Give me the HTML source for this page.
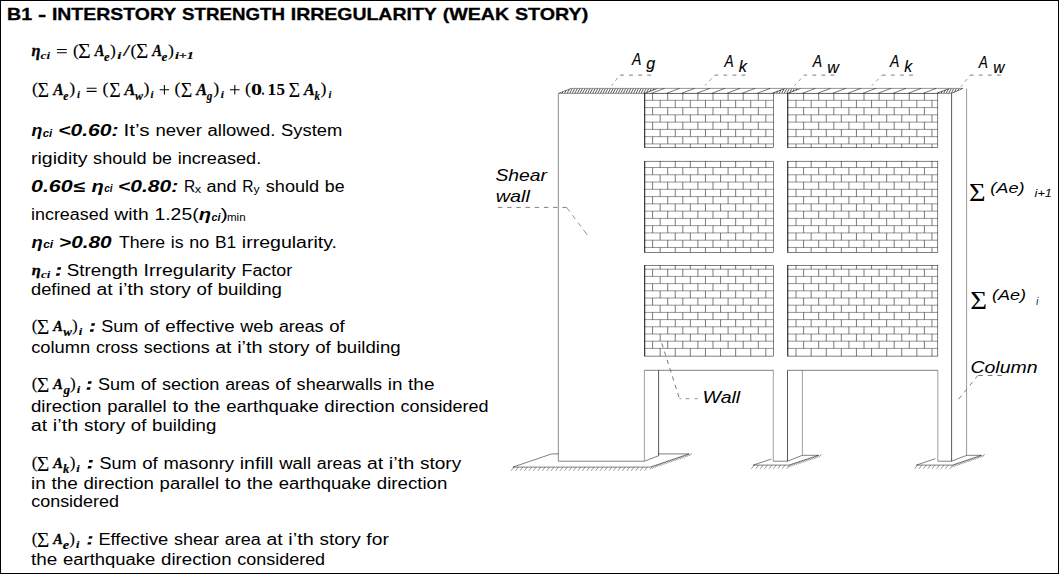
<!DOCTYPE html>
<html lang="en"><head><meta charset="utf-8"><title>B1 - Interstory Strength Irregularity (Weak Story)</title>
<style>html,body{margin:0;padding:0;background:#fff;overflow:hidden}body{width:1059px;height:574px;position:relative;font-family:"Liberation Sans",sans-serif}svg{position:absolute;left:0;top:0;display:block}text{white-space:pre}</style></head><body>
<svg width="1059" height="574" viewBox="0 0 1059 574" font-family="'Liberation Sans',sans-serif" font-size="15.5" fill="#000">
<rect x="0" y="0" width="1059" height="574" fill="#fff"/>
<rect x="0" y="0" width="1059" height="1" fill="#000"/>
<rect x="0" y="0" width="1" height="574" fill="#000"/>
<rect x="1058" y="0" width="1" height="574" fill="#000"/>
<rect x="0" y="573" width="1059" height="1" fill="#000"/>
<g id="diagram">
<clipPath id="tf"><path d="M558.4 93.4L571 88.4L962.9 88.4L951.6 93.4Z"/></clipPath>
<path d="M559.5 93.4L560.02 92.41 M562.05 93.4L563.19 91.21 M564.6 93.4L566.37 90 M567.15 93.4L569.54 88.8 M569.7 93.4L572.3 88.4 M572.25 93.4L574.85 88.4 M574.8 93.4L577.4 88.4 M577.35 93.4L579.95 88.4 M579.9 93.4L582.5 88.4 M582.45 93.4L585.05 88.4 M585 93.4L587.6 88.4 M587.55 93.4L590.15 88.4 M590.1 93.4L592.7 88.4 M592.65 93.4L595.25 88.4 M595.2 93.4L597.8 88.4 M597.75 93.4L600.35 88.4 M600.3 93.4L602.9 88.4 M602.85 93.4L605.45 88.4 M605.4 93.4L608 88.4 M607.95 93.4L610.55 88.4 M610.5 93.4L613.1 88.4 M613.05 93.4L615.65 88.4 M615.6 93.4L618.2 88.4 M618.15 93.4L620.75 88.4 M620.7 93.4L623.3 88.4 M623.25 93.4L625.85 88.4 M625.8 93.4L628.4 88.4 M628.35 93.4L630.95 88.4 M630.9 93.4L633.5 88.4 M633.45 93.4L636.05 88.4 M636 93.4L638.6 88.4 M638.55 93.4L641.15 88.4 M641.1 93.4L643.7 88.4 M643.65 93.4L646.25 88.4 M646.64 92.55L648.8 88.4 M649.82 91.35L651.35 88.4 M652.99 90.15L653.9 88.4" fill="none" stroke="#444" stroke-width="0.88" clip-path="url(#tf)"/>
<path d="M557.4 93.4l13.2 -5M644.4 93.4l13.2 -5" fill="none" stroke="#000" stroke-width="0.6" clip-path="url(#tf)"/>
<path d="M774 93.4L774.52 92.41 M776.55 93.4L777.69 91.21 M779.1 93.4L780.87 90 M781.65 93.4L784.04 88.8 M784.2 93.4L786.8 88.4 M786.75 93.4L789.35 88.4 M789.74 92.55L791.9 88.4 M792.92 91.35L794.45 88.4 M796.09 90.15L797 88.4" fill="none" stroke="#444" stroke-width="0.88" clip-path="url(#tf)"/>
<path d="M771.9 93.4l13.2 -5M787.5 93.4l13.2 -5" fill="none" stroke="#000" stroke-width="0.6" clip-path="url(#tf)"/>
<path d="M938.5 93.4L939.02 92.41 M941.05 93.4L942.19 91.21 M943.6 93.4L945.37 90 M946.15 93.4L948.54 88.8 M948.7 93.4L951.3 88.4 M951.25 93.4L953.85 88.4 M954.22 92.6L956.4 88.4 M957.39 91.4L958.95 88.4 M960.57 90.19L961.5 88.4" fill="none" stroke="#444" stroke-width="0.88" clip-path="url(#tf)"/>
<path d="M936.4 93.4l13.2 -5M952.1 93.4l13.2 -5" fill="none" stroke="#000" stroke-width="0.6" clip-path="url(#tf)"/>
<path d="M651.2 93.4l13.2 -5 M666.3 93.4l13.2 -5 M681.4 93.4l13.2 -5 M696.5 93.4l13.2 -5 M711.6 93.4l13.2 -5 M726.7 93.4l13.2 -5 M741.8 93.4l13.2 -5 M756.9 93.4l13.2 -5" stroke="#000" stroke-width="0.55" fill="none"/>
<path d="M802.2 93.4l13.2 -5 M817.3 93.4l13.2 -5 M832.4 93.4l13.2 -5 M847.5 93.4l13.2 -5 M862.6 93.4l13.2 -5 M877.7 93.4l13.2 -5 M892.8 93.4l13.2 -5 M907.9 93.4l13.2 -5 M923 93.4l13.2 -5" stroke="#000" stroke-width="0.55" fill="none"/>
<path d="M558.4 93.4L571 88.4L962.9 88.4L951.6 93.4Z" stroke="#000" stroke-width="0.42" fill="none"/>
<rect x="644.4" y="93.4" width="128.9" height="54.2" fill="#fff" stroke="none"/>
<path d="M644.4 100.3H773.3 M644.4 107.57H773.3 M644.4 114.84H773.3 M644.4 122.11H773.3 M644.4 129.38H773.3 M644.4 136.65H773.3 M644.4 143.92H773.3" stroke="#000" stroke-width="0.42" fill="none"/>
<path d="M652.6 93.4V100.3 M667.7 93.4V100.3 M682.8 93.4V100.3 M697.9 93.4V100.3 M713 93.4V100.3 M728.1 93.4V100.3 M743.2 93.4V100.3 M758.3 93.4V100.3 M660.15 100.3V107.57 M675.25 100.3V107.57 M690.35 100.3V107.57 M705.45 100.3V107.57 M720.55 100.3V107.57 M735.65 100.3V107.57 M750.75 100.3V107.57 M765.85 100.3V107.57 M652.6 107.57V114.84 M667.7 107.57V114.84 M682.8 107.57V114.84 M697.9 107.57V114.84 M713 107.57V114.84 M728.1 107.57V114.84 M743.2 107.57V114.84 M758.3 107.57V114.84 M660.15 114.84V122.11 M675.25 114.84V122.11 M690.35 114.84V122.11 M705.45 114.84V122.11 M720.55 114.84V122.11 M735.65 114.84V122.11 M750.75 114.84V122.11 M765.85 114.84V122.11 M652.6 122.11V129.38 M667.7 122.11V129.38 M682.8 122.11V129.38 M697.9 122.11V129.38 M713 122.11V129.38 M728.1 122.11V129.38 M743.2 122.11V129.38 M758.3 122.11V129.38 M660.15 129.38V136.65 M675.25 129.38V136.65 M690.35 129.38V136.65 M705.45 129.38V136.65 M720.55 129.38V136.65 M735.65 129.38V136.65 M750.75 129.38V136.65 M765.85 129.38V136.65 M652.6 136.65V143.92 M667.7 136.65V143.92 M682.8 136.65V143.92 M697.9 136.65V143.92 M713 136.65V143.92 M728.1 136.65V143.92 M743.2 136.65V143.92 M758.3 136.65V143.92 M660.15 143.92V147.6 M675.25 143.92V147.6 M690.35 143.92V147.6 M705.45 143.92V147.6 M720.55 143.92V147.6 M735.65 143.92V147.6 M750.75 143.92V147.6 M765.85 143.92V147.6" stroke="#000" stroke-width="0.52" fill="none"/>
<rect x="644.4" y="93.4" width="128.9" height="54.2" fill="none" stroke="#000" stroke-width="0.5"/>
<line x1="644.8" y1="93.4" x2="644.8" y2="147.6" stroke="#000" stroke-width="0.7"/>
<rect x="787.5" y="93.4" width="150.3" height="54.2" fill="#fff" stroke="none"/>
<path d="M787.5 100.3H937.8 M787.5 107.57H937.8 M787.5 114.84H937.8 M787.5 122.11H937.8 M787.5 129.38H937.8 M787.5 136.65H937.8 M787.5 143.92H937.8" stroke="#000" stroke-width="0.42" fill="none"/>
<path d="M803.6 93.4V100.3 M818.7 93.4V100.3 M833.8 93.4V100.3 M848.9 93.4V100.3 M864 93.4V100.3 M879.1 93.4V100.3 M894.2 93.4V100.3 M909.3 93.4V100.3 M924.4 93.4V100.3 M796.05 100.3V107.57 M811.15 100.3V107.57 M826.25 100.3V107.57 M841.35 100.3V107.57 M856.45 100.3V107.57 M871.55 100.3V107.57 M886.65 100.3V107.57 M901.75 100.3V107.57 M916.85 100.3V107.57 M931.95 100.3V107.57 M803.6 107.57V114.84 M818.7 107.57V114.84 M833.8 107.57V114.84 M848.9 107.57V114.84 M864 107.57V114.84 M879.1 107.57V114.84 M894.2 107.57V114.84 M909.3 107.57V114.84 M924.4 107.57V114.84 M796.05 114.84V122.11 M811.15 114.84V122.11 M826.25 114.84V122.11 M841.35 114.84V122.11 M856.45 114.84V122.11 M871.55 114.84V122.11 M886.65 114.84V122.11 M901.75 114.84V122.11 M916.85 114.84V122.11 M931.95 114.84V122.11 M803.6 122.11V129.38 M818.7 122.11V129.38 M833.8 122.11V129.38 M848.9 122.11V129.38 M864 122.11V129.38 M879.1 122.11V129.38 M894.2 122.11V129.38 M909.3 122.11V129.38 M924.4 122.11V129.38 M796.05 129.38V136.65 M811.15 129.38V136.65 M826.25 129.38V136.65 M841.35 129.38V136.65 M856.45 129.38V136.65 M871.55 129.38V136.65 M886.65 129.38V136.65 M901.75 129.38V136.65 M916.85 129.38V136.65 M931.95 129.38V136.65 M803.6 136.65V143.92 M818.7 136.65V143.92 M833.8 136.65V143.92 M848.9 136.65V143.92 M864 136.65V143.92 M879.1 136.65V143.92 M894.2 136.65V143.92 M909.3 136.65V143.92 M924.4 136.65V143.92 M796.05 143.92V147.6 M811.15 143.92V147.6 M826.25 143.92V147.6 M841.35 143.92V147.6 M856.45 143.92V147.6 M871.55 143.92V147.6 M886.65 143.92V147.6 M901.75 143.92V147.6 M916.85 143.92V147.6 M931.95 143.92V147.6" stroke="#000" stroke-width="0.52" fill="none"/>
<rect x="787.5" y="93.4" width="150.3" height="54.2" fill="none" stroke="#000" stroke-width="0.5"/>
<line x1="787.9" y1="93.4" x2="787.9" y2="147.6" stroke="#000" stroke-width="0.7"/>
<rect x="644.4" y="161.2" width="128.9" height="91.2" fill="#fff" stroke="none"/>
<path d="M644.4 167.5H773.3 M644.4 174.77H773.3 M644.4 182.04H773.3 M644.4 189.31H773.3 M644.4 196.58H773.3 M644.4 203.85H773.3 M644.4 211.12H773.3 M644.4 218.39H773.3 M644.4 225.66H773.3 M644.4 232.93H773.3 M644.4 240.2H773.3 M644.4 247.47H773.3" stroke="#000" stroke-width="0.42" fill="none"/>
<path d="M660.15 161.2V167.5 M675.25 161.2V167.5 M690.35 161.2V167.5 M705.45 161.2V167.5 M720.55 161.2V167.5 M735.65 161.2V167.5 M750.75 161.2V167.5 M765.85 161.2V167.5 M652.6 167.5V174.77 M667.7 167.5V174.77 M682.8 167.5V174.77 M697.9 167.5V174.77 M713 167.5V174.77 M728.1 167.5V174.77 M743.2 167.5V174.77 M758.3 167.5V174.77 M660.15 174.77V182.04 M675.25 174.77V182.04 M690.35 174.77V182.04 M705.45 174.77V182.04 M720.55 174.77V182.04 M735.65 174.77V182.04 M750.75 174.77V182.04 M765.85 174.77V182.04 M652.6 182.04V189.31 M667.7 182.04V189.31 M682.8 182.04V189.31 M697.9 182.04V189.31 M713 182.04V189.31 M728.1 182.04V189.31 M743.2 182.04V189.31 M758.3 182.04V189.31 M660.15 189.31V196.58 M675.25 189.31V196.58 M690.35 189.31V196.58 M705.45 189.31V196.58 M720.55 189.31V196.58 M735.65 189.31V196.58 M750.75 189.31V196.58 M765.85 189.31V196.58 M652.6 196.58V203.85 M667.7 196.58V203.85 M682.8 196.58V203.85 M697.9 196.58V203.85 M713 196.58V203.85 M728.1 196.58V203.85 M743.2 196.58V203.85 M758.3 196.58V203.85 M660.15 203.85V211.12 M675.25 203.85V211.12 M690.35 203.85V211.12 M705.45 203.85V211.12 M720.55 203.85V211.12 M735.65 203.85V211.12 M750.75 203.85V211.12 M765.85 203.85V211.12 M652.6 211.12V218.39 M667.7 211.12V218.39 M682.8 211.12V218.39 M697.9 211.12V218.39 M713 211.12V218.39 M728.1 211.12V218.39 M743.2 211.12V218.39 M758.3 211.12V218.39 M660.15 218.39V225.66 M675.25 218.39V225.66 M690.35 218.39V225.66 M705.45 218.39V225.66 M720.55 218.39V225.66 M735.65 218.39V225.66 M750.75 218.39V225.66 M765.85 218.39V225.66 M652.6 225.66V232.93 M667.7 225.66V232.93 M682.8 225.66V232.93 M697.9 225.66V232.93 M713 225.66V232.93 M728.1 225.66V232.93 M743.2 225.66V232.93 M758.3 225.66V232.93 M660.15 232.93V240.2 M675.25 232.93V240.2 M690.35 232.93V240.2 M705.45 232.93V240.2 M720.55 232.93V240.2 M735.65 232.93V240.2 M750.75 232.93V240.2 M765.85 232.93V240.2 M652.6 240.2V247.47 M667.7 240.2V247.47 M682.8 240.2V247.47 M697.9 240.2V247.47 M713 240.2V247.47 M728.1 240.2V247.47 M743.2 240.2V247.47 M758.3 240.2V247.47 M660.15 247.47V252.4 M675.25 247.47V252.4 M690.35 247.47V252.4 M705.45 247.47V252.4 M720.55 247.47V252.4 M735.65 247.47V252.4 M750.75 247.47V252.4 M765.85 247.47V252.4" stroke="#000" stroke-width="0.52" fill="none"/>
<rect x="644.4" y="161.2" width="128.9" height="91.2" fill="none" stroke="#000" stroke-width="0.5"/>
<line x1="644.8" y1="161.2" x2="644.8" y2="252.4" stroke="#000" stroke-width="0.7"/>
<rect x="787.5" y="161.2" width="150.3" height="91.2" fill="#fff" stroke="none"/>
<path d="M787.5 167.5H937.8 M787.5 174.77H937.8 M787.5 182.04H937.8 M787.5 189.31H937.8 M787.5 196.58H937.8 M787.5 203.85H937.8 M787.5 211.12H937.8 M787.5 218.39H937.8 M787.5 225.66H937.8 M787.5 232.93H937.8 M787.5 240.2H937.8 M787.5 247.47H937.8" stroke="#000" stroke-width="0.42" fill="none"/>
<path d="M796.05 161.2V167.5 M811.15 161.2V167.5 M826.25 161.2V167.5 M841.35 161.2V167.5 M856.45 161.2V167.5 M871.55 161.2V167.5 M886.65 161.2V167.5 M901.75 161.2V167.5 M916.85 161.2V167.5 M931.95 161.2V167.5 M803.6 167.5V174.77 M818.7 167.5V174.77 M833.8 167.5V174.77 M848.9 167.5V174.77 M864 167.5V174.77 M879.1 167.5V174.77 M894.2 167.5V174.77 M909.3 167.5V174.77 M924.4 167.5V174.77 M796.05 174.77V182.04 M811.15 174.77V182.04 M826.25 174.77V182.04 M841.35 174.77V182.04 M856.45 174.77V182.04 M871.55 174.77V182.04 M886.65 174.77V182.04 M901.75 174.77V182.04 M916.85 174.77V182.04 M931.95 174.77V182.04 M803.6 182.04V189.31 M818.7 182.04V189.31 M833.8 182.04V189.31 M848.9 182.04V189.31 M864 182.04V189.31 M879.1 182.04V189.31 M894.2 182.04V189.31 M909.3 182.04V189.31 M924.4 182.04V189.31 M796.05 189.31V196.58 M811.15 189.31V196.58 M826.25 189.31V196.58 M841.35 189.31V196.58 M856.45 189.31V196.58 M871.55 189.31V196.58 M886.65 189.31V196.58 M901.75 189.31V196.58 M916.85 189.31V196.58 M931.95 189.31V196.58 M803.6 196.58V203.85 M818.7 196.58V203.85 M833.8 196.58V203.85 M848.9 196.58V203.85 M864 196.58V203.85 M879.1 196.58V203.85 M894.2 196.58V203.85 M909.3 196.58V203.85 M924.4 196.58V203.85 M796.05 203.85V211.12 M811.15 203.85V211.12 M826.25 203.85V211.12 M841.35 203.85V211.12 M856.45 203.85V211.12 M871.55 203.85V211.12 M886.65 203.85V211.12 M901.75 203.85V211.12 M916.85 203.85V211.12 M931.95 203.85V211.12 M803.6 211.12V218.39 M818.7 211.12V218.39 M833.8 211.12V218.39 M848.9 211.12V218.39 M864 211.12V218.39 M879.1 211.12V218.39 M894.2 211.12V218.39 M909.3 211.12V218.39 M924.4 211.12V218.39 M796.05 218.39V225.66 M811.15 218.39V225.66 M826.25 218.39V225.66 M841.35 218.39V225.66 M856.45 218.39V225.66 M871.55 218.39V225.66 M886.65 218.39V225.66 M901.75 218.39V225.66 M916.85 218.39V225.66 M931.95 218.39V225.66 M803.6 225.66V232.93 M818.7 225.66V232.93 M833.8 225.66V232.93 M848.9 225.66V232.93 M864 225.66V232.93 M879.1 225.66V232.93 M894.2 225.66V232.93 M909.3 225.66V232.93 M924.4 225.66V232.93 M796.05 232.93V240.2 M811.15 232.93V240.2 M826.25 232.93V240.2 M841.35 232.93V240.2 M856.45 232.93V240.2 M871.55 232.93V240.2 M886.65 232.93V240.2 M901.75 232.93V240.2 M916.85 232.93V240.2 M931.95 232.93V240.2 M803.6 240.2V247.47 M818.7 240.2V247.47 M833.8 240.2V247.47 M848.9 240.2V247.47 M864 240.2V247.47 M879.1 240.2V247.47 M894.2 240.2V247.47 M909.3 240.2V247.47 M924.4 240.2V247.47 M796.05 247.47V252.4 M811.15 247.47V252.4 M826.25 247.47V252.4 M841.35 247.47V252.4 M856.45 247.47V252.4 M871.55 247.47V252.4 M886.65 247.47V252.4 M901.75 247.47V252.4 M916.85 247.47V252.4 M931.95 247.47V252.4" stroke="#000" stroke-width="0.52" fill="none"/>
<rect x="787.5" y="161.2" width="150.3" height="91.2" fill="none" stroke="#000" stroke-width="0.5"/>
<line x1="787.9" y1="161.2" x2="787.9" y2="252.4" stroke="#000" stroke-width="0.7"/>
<rect x="644.4" y="265.3" width="128.9" height="90.8" fill="#fff" stroke="none"/>
<path d="M644.4 269.2H773.3 M644.4 276.4H773.3 M644.4 283.6H773.3 M644.4 290.8H773.3 M644.4 298H773.3 M644.4 305.2H773.3 M644.4 312.4H773.3 M644.4 319.6H773.3 M644.4 326.8H773.3 M644.4 334H773.3 M644.4 341.2H773.3 M644.4 348.4H773.3" stroke="#000" stroke-width="0.42" fill="none"/>
<path d="M660.15 265.3V269.2 M675.25 265.3V269.2 M690.35 265.3V269.2 M705.45 265.3V269.2 M720.55 265.3V269.2 M735.65 265.3V269.2 M750.75 265.3V269.2 M765.85 265.3V269.2 M652.6 269.2V276.4 M667.7 269.2V276.4 M682.8 269.2V276.4 M697.9 269.2V276.4 M713 269.2V276.4 M728.1 269.2V276.4 M743.2 269.2V276.4 M758.3 269.2V276.4 M660.15 276.4V283.6 M675.25 276.4V283.6 M690.35 276.4V283.6 M705.45 276.4V283.6 M720.55 276.4V283.6 M735.65 276.4V283.6 M750.75 276.4V283.6 M765.85 276.4V283.6 M652.6 283.6V290.8 M667.7 283.6V290.8 M682.8 283.6V290.8 M697.9 283.6V290.8 M713 283.6V290.8 M728.1 283.6V290.8 M743.2 283.6V290.8 M758.3 283.6V290.8 M660.15 290.8V298 M675.25 290.8V298 M690.35 290.8V298 M705.45 290.8V298 M720.55 290.8V298 M735.65 290.8V298 M750.75 290.8V298 M765.85 290.8V298 M652.6 298V305.2 M667.7 298V305.2 M682.8 298V305.2 M697.9 298V305.2 M713 298V305.2 M728.1 298V305.2 M743.2 298V305.2 M758.3 298V305.2 M660.15 305.2V312.4 M675.25 305.2V312.4 M690.35 305.2V312.4 M705.45 305.2V312.4 M720.55 305.2V312.4 M735.65 305.2V312.4 M750.75 305.2V312.4 M765.85 305.2V312.4 M652.6 312.4V319.6 M667.7 312.4V319.6 M682.8 312.4V319.6 M697.9 312.4V319.6 M713 312.4V319.6 M728.1 312.4V319.6 M743.2 312.4V319.6 M758.3 312.4V319.6 M660.15 319.6V326.8 M675.25 319.6V326.8 M690.35 319.6V326.8 M705.45 319.6V326.8 M720.55 319.6V326.8 M735.65 319.6V326.8 M750.75 319.6V326.8 M765.85 319.6V326.8 M652.6 326.8V334 M667.7 326.8V334 M682.8 326.8V334 M697.9 326.8V334 M713 326.8V334 M728.1 326.8V334 M743.2 326.8V334 M758.3 326.8V334 M660.15 334V341.2 M675.25 334V341.2 M690.35 334V341.2 M705.45 334V341.2 M720.55 334V341.2 M735.65 334V341.2 M750.75 334V341.2 M765.85 334V341.2 M652.6 341.2V348.4 M667.7 341.2V348.4 M682.8 341.2V348.4 M697.9 341.2V348.4 M713 341.2V348.4 M728.1 341.2V348.4 M743.2 341.2V348.4 M758.3 341.2V348.4 M660.15 348.4V356.1 M675.25 348.4V356.1 M690.35 348.4V356.1 M705.45 348.4V356.1 M720.55 348.4V356.1 M735.65 348.4V356.1 M750.75 348.4V356.1 M765.85 348.4V356.1" stroke="#000" stroke-width="0.52" fill="none"/>
<rect x="644.4" y="265.3" width="128.9" height="90.8" fill="none" stroke="#000" stroke-width="0.5"/>
<line x1="644.8" y1="265.3" x2="644.8" y2="356.1" stroke="#000" stroke-width="0.7"/>
<rect x="787.5" y="265.3" width="150.3" height="90.8" fill="#fff" stroke="none"/>
<path d="M787.5 269.2H937.8 M787.5 276.4H937.8 M787.5 283.6H937.8 M787.5 290.8H937.8 M787.5 298H937.8 M787.5 305.2H937.8 M787.5 312.4H937.8 M787.5 319.6H937.8 M787.5 326.8H937.8 M787.5 334H937.8 M787.5 341.2H937.8 M787.5 348.4H937.8" stroke="#000" stroke-width="0.42" fill="none"/>
<path d="M796.05 265.3V269.2 M811.15 265.3V269.2 M826.25 265.3V269.2 M841.35 265.3V269.2 M856.45 265.3V269.2 M871.55 265.3V269.2 M886.65 265.3V269.2 M901.75 265.3V269.2 M916.85 265.3V269.2 M931.95 265.3V269.2 M803.6 269.2V276.4 M818.7 269.2V276.4 M833.8 269.2V276.4 M848.9 269.2V276.4 M864 269.2V276.4 M879.1 269.2V276.4 M894.2 269.2V276.4 M909.3 269.2V276.4 M924.4 269.2V276.4 M796.05 276.4V283.6 M811.15 276.4V283.6 M826.25 276.4V283.6 M841.35 276.4V283.6 M856.45 276.4V283.6 M871.55 276.4V283.6 M886.65 276.4V283.6 M901.75 276.4V283.6 M916.85 276.4V283.6 M931.95 276.4V283.6 M803.6 283.6V290.8 M818.7 283.6V290.8 M833.8 283.6V290.8 M848.9 283.6V290.8 M864 283.6V290.8 M879.1 283.6V290.8 M894.2 283.6V290.8 M909.3 283.6V290.8 M924.4 283.6V290.8 M796.05 290.8V298 M811.15 290.8V298 M826.25 290.8V298 M841.35 290.8V298 M856.45 290.8V298 M871.55 290.8V298 M886.65 290.8V298 M901.75 290.8V298 M916.85 290.8V298 M931.95 290.8V298 M803.6 298V305.2 M818.7 298V305.2 M833.8 298V305.2 M848.9 298V305.2 M864 298V305.2 M879.1 298V305.2 M894.2 298V305.2 M909.3 298V305.2 M924.4 298V305.2 M796.05 305.2V312.4 M811.15 305.2V312.4 M826.25 305.2V312.4 M841.35 305.2V312.4 M856.45 305.2V312.4 M871.55 305.2V312.4 M886.65 305.2V312.4 M901.75 305.2V312.4 M916.85 305.2V312.4 M931.95 305.2V312.4 M803.6 312.4V319.6 M818.7 312.4V319.6 M833.8 312.4V319.6 M848.9 312.4V319.6 M864 312.4V319.6 M879.1 312.4V319.6 M894.2 312.4V319.6 M909.3 312.4V319.6 M924.4 312.4V319.6 M796.05 319.6V326.8 M811.15 319.6V326.8 M826.25 319.6V326.8 M841.35 319.6V326.8 M856.45 319.6V326.8 M871.55 319.6V326.8 M886.65 319.6V326.8 M901.75 319.6V326.8 M916.85 319.6V326.8 M931.95 319.6V326.8 M803.6 326.8V334 M818.7 326.8V334 M833.8 326.8V334 M848.9 326.8V334 M864 326.8V334 M879.1 326.8V334 M894.2 326.8V334 M909.3 326.8V334 M924.4 326.8V334 M796.05 334V341.2 M811.15 334V341.2 M826.25 334V341.2 M841.35 334V341.2 M856.45 334V341.2 M871.55 334V341.2 M886.65 334V341.2 M901.75 334V341.2 M916.85 334V341.2 M931.95 334V341.2 M803.6 341.2V348.4 M818.7 341.2V348.4 M833.8 341.2V348.4 M848.9 341.2V348.4 M864 341.2V348.4 M879.1 341.2V348.4 M894.2 341.2V348.4 M909.3 341.2V348.4 M924.4 341.2V348.4 M796.05 348.4V356.1 M811.15 348.4V356.1 M826.25 348.4V356.1 M841.35 348.4V356.1 M856.45 348.4V356.1 M871.55 348.4V356.1 M886.65 348.4V356.1 M901.75 348.4V356.1 M916.85 348.4V356.1 M931.95 348.4V356.1" stroke="#000" stroke-width="0.52" fill="none"/>
<rect x="787.5" y="265.3" width="150.3" height="90.8" fill="none" stroke="#000" stroke-width="0.5"/>
<line x1="787.9" y1="265.3" x2="787.9" y2="356.1" stroke="#000" stroke-width="0.7"/>
<line x1="558.4" y1="93.4" x2="558.4" y2="461.2" stroke="#a2a2a2" stroke-width="1.2" />
<line x1="558.4" y1="461.2" x2="644.4" y2="461.2" stroke="#000" stroke-width="0.5" />
<line x1="644.4" y1="370.3" x2="644.4" y2="461.2" stroke="#000" stroke-width="0.38" />
<line x1="658.6" y1="370.3" x2="658.6" y2="455.8" stroke="#000" stroke-width="0.66" />
<line x1="644.4" y1="461.2" x2="658.6" y2="455.8" stroke="#000" stroke-width="0.5" />
<line x1="644.4" y1="370.3" x2="773.3" y2="370.3" stroke="#000" stroke-width="0.5" />
<line x1="773.3" y1="370.3" x2="773.3" y2="461.2" stroke="#000" stroke-width="0.38" />
<line x1="773.3" y1="461.2" x2="787.5" y2="461.2" stroke="#000" stroke-width="0.5" />
<line x1="787.5" y1="370.3" x2="787.5" y2="461.2" stroke="#000" stroke-width="0.66" />
<line x1="802.4" y1="370.3" x2="802.4" y2="455.3" stroke="#000" stroke-width="0.38" />
<line x1="787.5" y1="461.2" x2="802.4" y2="455.3" stroke="#000" stroke-width="0.5" />
<line x1="787.5" y1="370.3" x2="937.8" y2="370.3" stroke="#000" stroke-width="0.5" />
<line x1="937.8" y1="370.3" x2="937.8" y2="461.2" stroke="#000" stroke-width="0.38" />
<line x1="937.8" y1="461.2" x2="951.6" y2="461.2" stroke="#000" stroke-width="0.5" />
<line x1="951.6" y1="93.4" x2="951.6" y2="461.2" stroke="#000" stroke-width="0.66" />
<line x1="966.6" y1="88.7" x2="966.6" y2="455.4" stroke="#000" stroke-width="0.4" />
<line x1="951.6" y1="461.2" x2="966.6" y2="455.4" stroke="#000" stroke-width="0.5" />
<line x1="512.9" y1="467.1" x2="650.2" y2="467.1" stroke="#000" stroke-width="0.5" />
<line x1="650.2" y1="467.1" x2="689" y2="453.9" stroke="#000" stroke-width="0.5" />
<line x1="512.9" y1="467.1" x2="551.7" y2="453.9" stroke="#000" stroke-width="0.5" />
<line x1="551.7" y1="453.9" x2="558.4" y2="453.9" stroke="#000" stroke-width="0.5" />
<path d="M513.9 467.1l-2.8 3.7 M518.35 467.1l-2.8 3.7 M522.8 467.1l-2.8 3.7 M527.25 467.1l-2.8 3.7 M531.7 467.1l-2.8 3.7 M536.15 467.1l-2.8 3.7 M540.6 467.1l-2.8 3.7 M545.05 467.1l-2.8 3.7 M549.5 467.1l-2.8 3.7 M553.95 467.1l-2.8 3.7 M558.4 467.1l-2.8 3.7 M562.85 467.1l-2.8 3.7 M567.3 467.1l-2.8 3.7 M571.75 467.1l-2.8 3.7 M576.2 467.1l-2.8 3.7 M580.65 467.1l-2.8 3.7 M585.1 467.1l-2.8 3.7 M589.55 467.1l-2.8 3.7 M594 467.1l-2.8 3.7 M598.45 467.1l-2.8 3.7 M602.9 467.1l-2.8 3.7 M607.35 467.1l-2.8 3.7 M611.8 467.1l-2.8 3.7 M616.25 467.1l-2.8 3.7 M620.7 467.1l-2.8 3.7 M625.15 467.1l-2.8 3.7 M629.6 467.1l-2.8 3.7 M634.05 467.1l-2.8 3.7 M638.5 467.1l-2.8 3.7 M642.95 467.1l-2.8 3.7 M647.4 467.1l-2.8 3.7 M652.5 466.32l-2.5 3.1 M654.8 465.54l-2.5 3.1 M657.1 464.75l-2.5 3.1 M659.4 463.97l-2.5 3.1 M661.7 463.19l-2.5 3.1 M664 462.41l-2.5 3.1 M666.3 461.62l-2.5 3.1 M668.6 460.84l-2.5 3.1 M670.9 460.06l-2.5 3.1 M673.2 459.28l-2.5 3.1 M675.5 458.49l-2.5 3.1 M677.8 457.71l-2.5 3.1 M680.1 456.93l-2.5 3.1 M682.4 456.15l-2.5 3.1 M684.7 455.36l-2.5 3.1 M687 454.58l-2.5 3.1 M689.3 453.8l-2.5 3.1 M691.6 453.02l-2.5 3.1" stroke="#000" stroke-width="0.4" fill="none"/>
<line x1="658.6" y1="453.9" x2="689" y2="453.9" stroke="#000" stroke-width="0.5" />
<line x1="753.2" y1="465.1" x2="789" y2="465.1" stroke="#000" stroke-width="0.5" />
<line x1="789" y1="465.1" x2="818.4" y2="455.3" stroke="#000" stroke-width="0.5" />
<line x1="753.2" y1="465.1" x2="771.4" y2="459.03" stroke="#000" stroke-width="0.5" />
<path d="M754.2 465.1l-2.8 3.7 M758.6 465.1l-2.8 3.7 M763 465.1l-2.8 3.7 M767.4 465.1l-2.8 3.7 M771.8 465.1l-2.8 3.7 M776.2 465.1l-2.8 3.7 M780.6 465.1l-2.8 3.7 M785 465.1l-2.8 3.7 M789.4 465.1l-2.8 3.7 M791.3 464.33l-2.5 3.1 M793.6 463.57l-2.5 3.1 M795.9 462.8l-2.5 3.1 M798.2 462.03l-2.5 3.1 M800.5 461.27l-2.5 3.1 M802.8 460.5l-2.5 3.1 M805.1 459.73l-2.5 3.1 M807.4 458.97l-2.5 3.1 M809.7 458.2l-2.5 3.1 M812 457.43l-2.5 3.1 M814.3 456.67l-2.5 3.1 M816.6 455.9l-2.5 3.1 M818.9 455.13l-2.5 3.1 M821.2 454.37l-2.5 3.1" stroke="#000" stroke-width="0.4" fill="none"/>
<line x1="802.4" y1="455.3" x2="818.4" y2="455.3" stroke="#000" stroke-width="0.5" />
<line x1="916.4" y1="465.1" x2="952.4" y2="465.1" stroke="#000" stroke-width="0.5" />
<line x1="952.4" y1="465.1" x2="981.4" y2="455.3" stroke="#000" stroke-width="0.5" />
<line x1="916.4" y1="465.1" x2="935.4" y2="458.68" stroke="#000" stroke-width="0.5" />
<path d="M917.4 465.1l-2.8 3.7 M921.8 465.1l-2.8 3.7 M926.2 465.1l-2.8 3.7 M930.6 465.1l-2.8 3.7 M935 465.1l-2.8 3.7 M939.4 465.1l-2.8 3.7 M943.8 465.1l-2.8 3.7 M948.2 465.1l-2.8 3.7 M952.6 465.1l-2.8 3.7 M954.7 464.32l-2.5 3.1 M957 463.55l-2.5 3.1 M959.3 462.77l-2.5 3.1 M961.6 461.99l-2.5 3.1 M963.9 461.21l-2.5 3.1 M966.2 460.44l-2.5 3.1 M968.5 459.66l-2.5 3.1 M970.8 458.88l-2.5 3.1 M973.1 458.1l-2.5 3.1 M975.4 457.33l-2.5 3.1 M977.7 456.55l-2.5 3.1 M980 455.77l-2.5 3.1 M982.3 455l-2.5 3.1 M984.6 454.22l-2.5 3.1" stroke="#000" stroke-width="0.4" fill="none"/>
<line x1="966.6" y1="455.3" x2="981.4" y2="455.3" stroke="#000" stroke-width="0.5" />
<path d="M651.1 75.1H619.8" fill="none" stroke="#959595" stroke-width="1.3" stroke-dasharray="3.8 5.3"/>
<path d="M611.6 85.6L619.8 75.1" fill="none" stroke="#9a9a9a" stroke-width="1.0" stroke-dasharray="2.4 3.8 3.6 3.6 9"/>
<path d="M745.4 75.1H714.8" fill="none" stroke="#959595" stroke-width="1.3" stroke-dasharray="3.8 5.3"/>
<path d="M705 85.6L714.8 75.1" fill="none" stroke="#9a9a9a" stroke-width="1.0" stroke-dasharray="2.4 3.8 3.6 3.6 9"/>
<path d="M834.4 75.2H804.2" fill="none" stroke="#959595" stroke-width="1.3" stroke-dasharray="3.8 5.3"/>
<path d="M794.4 85.7L804.2 75.2" fill="none" stroke="#9a9a9a" stroke-width="1.0" stroke-dasharray="2.4 3.8 3.6 3.6 9"/>
<path d="M912.9 75.2H882.2" fill="none" stroke="#959595" stroke-width="1.3" stroke-dasharray="3.8 5.3"/>
<path d="M871.8 85.7L882.2 75.2" fill="none" stroke="#9a9a9a" stroke-width="1.0" stroke-dasharray="2.4 3.8 3.6 3.6 9"/>
<path d="M1000.8 75.2H970.2" fill="none" stroke="#959595" stroke-width="1.3" stroke-dasharray="3.8 5.3"/>
<path d="M961 86.6L970.2 75.2" fill="none" stroke="#9a9a9a" stroke-width="1.0" stroke-dasharray="2.4 3.8 3.6 3.6 9"/>
<path d="M497.9 207.4 L566.6 207.4" fill="none" stroke="#808080" stroke-width="1" stroke-dasharray="4.5 4.7"/>
<path d="M566.6 207.4 L587.2 234.8" fill="none" stroke="#8a8a8a" stroke-width="0.95" stroke-dasharray="5.2 4.6 4.7 4.6 4.7 4.0 7"/>
<path d="M1001.9 375.45 L977.9 375.45" fill="none" stroke="#666" stroke-width="0.95" stroke-dasharray="4.6 4.9"/>
<path d="M977.9 375.45 L958.6 399.2" fill="none" stroke="#7a7a7a" stroke-width="0.95" stroke-dasharray="4.0 4.3 4.5 4.6 4.3 4.3 5"/>
<path d="M661.8 343.3 L679.5 398.7" fill="none" stroke="#6a6a6a" stroke-width="0.9" stroke-dasharray="4.4 4.3"/>
<path d="M679.5 398.7 L697.6 398.7" fill="none" stroke="#8a8a8a" stroke-width="0.95" stroke-dasharray="1.7 4.4 3.9 5.2 2.9"/>
<text x="631.99" y="64.8" font-size="15.8" font-style="italic" stroke="#000" stroke-width="0.15" textLength="9.36" lengthAdjust="spacingAndGlyphs">A</text>
<text x="646.37" y="69.4" font-size="17" font-style="italic" stroke="#000" stroke-width="0.15" textLength="8.97" lengthAdjust="spacingAndGlyphs">g</text>
<text x="724.58" y="67" font-size="15.8" font-style="italic" stroke="#000" stroke-width="0.15" textLength="9.16" lengthAdjust="spacingAndGlyphs">A</text>
<text x="738.83" y="72.2" font-size="17" font-style="italic" stroke="#000" stroke-width="0.15" textLength="8.09" lengthAdjust="spacingAndGlyphs">k</text>
<text x="812.79" y="67" font-size="15.8" font-style="italic" stroke="#000" stroke-width="0.15" textLength="9.36" lengthAdjust="spacingAndGlyphs">A</text>
<text x="827.2" y="72.5" font-size="17" font-style="italic" stroke="#000" stroke-width="0.15" textLength="11.64" lengthAdjust="spacingAndGlyphs">w</text>
<text x="889.89" y="67" font-size="15.8" font-style="italic" stroke="#000" stroke-width="0.15" textLength="9.36" lengthAdjust="spacingAndGlyphs">A</text>
<text x="904.34" y="72.2" font-size="17" font-style="italic" stroke="#000" stroke-width="0.15" textLength="7.9" lengthAdjust="spacingAndGlyphs">k</text>
<text x="978.78" y="68" font-size="15.8" font-style="italic" stroke="#000" stroke-width="0.15" textLength="9.16" lengthAdjust="spacingAndGlyphs">A</text>
<text x="993.23" y="73" font-size="17" font-style="italic" stroke="#000" stroke-width="0.15" textLength="11.14" lengthAdjust="spacingAndGlyphs">w</text>
<text x="495.45" y="181.4" font-size="16.6" font-style="italic" textLength="51.5" lengthAdjust="spacingAndGlyphs">Shear</text>
<text x="495.81" y="201.5" font-size="16.6" font-style="italic" textLength="34.14" lengthAdjust="spacingAndGlyphs">wall</text>
<text x="702.6" y="403" font-size="16.8" font-style="italic" textLength="37.6" lengthAdjust="spacingAndGlyphs">Wall</text>
<text x="970.4" y="372.8" font-size="17" font-style="italic" textLength="67.2" lengthAdjust="spacingAndGlyphs">Column</text>
<text x="968.99" y="200.9" font-size="26" font-family="'Liberation Serif',serif" textLength="16.54" lengthAdjust="spacingAndGlyphs">Σ</text>
<text x="990.2" y="192.9" font-size="14.2" font-style="italic" textLength="34.4" lengthAdjust="spacingAndGlyphs">(Ae)</text>
<text x="1034.6" y="197.1" font-size="10.2" font-style="italic" textLength="17.28" lengthAdjust="spacingAndGlyphs">i+1</text>
<text x="970.27" y="308.5" font-size="26" font-family="'Liberation Serif',serif" textLength="16.78" lengthAdjust="spacingAndGlyphs">Σ</text>
<text x="991.9" y="300.2" font-size="14.2" font-style="italic" textLength="34.1" lengthAdjust="spacingAndGlyphs">(Ae)</text>
<text x="1036.35" y="304.6" font-size="10.2" font-style="italic" textLength="2.04" lengthAdjust="spacingAndGlyphs">i</text>
</g>
<g id="text">
<text x="7" y="20.4" font-size="17.1" font-weight="bold" stroke="#000" stroke-width="0.3" textLength="25.09" lengthAdjust="spacingAndGlyphs">B1</text>
<text x="37.92" y="20.4" font-size="17.1" font-weight="bold" stroke="#000" stroke-width="0.3" textLength="8.18" lengthAdjust="spacingAndGlyphs">-</text>
<text x="51.92" y="20.4" font-size="17.1" font-weight="bold" stroke="#000" stroke-width="0.3" textLength="124.37" lengthAdjust="spacingAndGlyphs">INTERSTORY</text>
<text x="182.12" y="20.4" font-size="17.1" font-weight="bold" stroke="#000" stroke-width="0.3" textLength="102.79" lengthAdjust="spacingAndGlyphs">STRENGTH</text>
<text x="290.73" y="20.4" font-size="17.1" font-weight="bold" stroke="#000" stroke-width="0.3" textLength="146.09" lengthAdjust="spacingAndGlyphs">IRREGULARITY</text>
<text x="442.65" y="20.4" font-size="17.1" font-weight="bold" stroke="#000" stroke-width="0.3" textLength="66.45" lengthAdjust="spacingAndGlyphs">(WEAK</text>
<text x="514.93" y="20.4" font-size="17.1" font-weight="bold" stroke="#000" stroke-width="0.3" textLength="73.32" lengthAdjust="spacingAndGlyphs">STORY)</text>
<text x="31.47" y="55.8" font-size="16.6" font-family="'Liberation Serif',serif" font-weight="bold" font-style="italic" stroke="#000" stroke-width="0.3" textLength="8.94" lengthAdjust="spacingAndGlyphs">η</text>
<text x="40.6" y="58.9" font-size="11.4" font-family="'Liberation Serif',serif" font-weight="bold" font-style="italic" textLength="9.65" lengthAdjust="spacingAndGlyphs">ci</text>
<path d="M56.9 49.5H66.8M56.9 52.65H66.8" stroke="#000" stroke-width="1.05" fill="none"/>
<text x="73.03" y="55.6" font-size="16.5" font-family="'Liberation Serif',serif" stroke="#000" stroke-width="0.12" textLength="5.83" lengthAdjust="spacingAndGlyphs">(</text>
<text x="77.94" y="58.2" font-size="21.2" font-family="'Liberation Serif',serif" textLength="12.76" lengthAdjust="spacingAndGlyphs">Σ</text>
<text x="94.86" y="55.8" font-size="16.6" font-family="'Liberation Serif',serif" font-weight="bold" font-style="italic" stroke="#000" stroke-width="0.3" textLength="9.74" lengthAdjust="spacingAndGlyphs">A</text>
<text x="104.01" y="60.8" font-size="12.4" font-family="'Liberation Serif',serif" font-weight="bold" font-style="italic" stroke="#000" stroke-width="0.2" textLength="5.46" lengthAdjust="spacingAndGlyphs">e</text>
<text x="110.14" y="55.6" font-size="16.5" font-family="'Liberation Serif',serif" stroke="#000" stroke-width="0.12" textLength="5.83" lengthAdjust="spacingAndGlyphs">)</text>
<text x="117.22" y="59.3" font-size="11.2" font-family="'Liberation Serif',serif" font-weight="bold" font-style="italic" stroke="#000" stroke-width="0.15" textLength="4.14" lengthAdjust="spacingAndGlyphs">i</text>
<text x="122.7" y="55.6" font-size="16.5" font-family="'Liberation Serif',serif" stroke="#000" stroke-width="0.12" textLength="7.6" lengthAdjust="spacingAndGlyphs">/</text>
<text x="130.51" y="55.6" font-size="16.5" font-family="'Liberation Serif',serif" stroke="#000" stroke-width="0.12" textLength="5.96" lengthAdjust="spacingAndGlyphs">(</text>
<text x="136.08" y="58.2" font-size="21.2" font-family="'Liberation Serif',serif" textLength="12.29" lengthAdjust="spacingAndGlyphs">Σ</text>
<text x="152.26" y="55.8" font-size="16.6" font-family="'Liberation Serif',serif" font-weight="bold" font-style="italic" stroke="#000" stroke-width="0.3" textLength="9.84" lengthAdjust="spacingAndGlyphs">A</text>
<text x="161.49" y="60.8" font-size="12.4" font-family="'Liberation Serif',serif" font-weight="bold" font-style="italic" stroke="#000" stroke-width="0.2" textLength="5.79" lengthAdjust="spacingAndGlyphs">e</text>
<text x="168.02" y="55.6" font-size="16.5" font-family="'Liberation Serif',serif" stroke="#000" stroke-width="0.12" textLength="5.96" lengthAdjust="spacingAndGlyphs">)</text>
<text x="174.94" y="59.3" font-size="11.2" font-family="'Liberation Serif',serif" font-weight="bold" font-style="italic" stroke="#000" stroke-width="0.15" textLength="18.98" lengthAdjust="spacingAndGlyphs">i+1</text>
<text x="32.01" y="94.3" font-size="16.8" font-family="'Liberation Serif',serif" stroke="#000" stroke-width="0.12" textLength="5.96" lengthAdjust="spacingAndGlyphs">(</text>
<text x="37.62" y="96.9" font-size="21.6" font-family="'Liberation Serif',serif" textLength="11.58" lengthAdjust="spacingAndGlyphs">Σ</text>
<text x="53.21" y="94.5" font-size="17.3" font-family="'Liberation Serif',serif" font-weight="bold" font-style="italic" stroke="#000" stroke-width="0.3" textLength="10.43" lengthAdjust="spacingAndGlyphs">A</text>
<text x="63.13" y="99.5" font-size="12.4" font-family="'Liberation Serif',serif" font-weight="bold" font-style="italic" stroke="#000" stroke-width="0.2" textLength="5.12" lengthAdjust="spacingAndGlyphs">e</text>
<text x="69.22" y="94.3" font-size="16.8" font-family="'Liberation Serif',serif" stroke="#000" stroke-width="0.12" textLength="5.96" lengthAdjust="spacingAndGlyphs">)</text>
<text x="77.02" y="98" font-size="11.2" font-family="'Liberation Serif',serif" font-weight="bold" font-style="italic" stroke="#000" stroke-width="0.15" textLength="3.02" lengthAdjust="spacingAndGlyphs">i</text>
<path d="M86.7 88.2H96.6M86.7 91.35H96.6" stroke="#000" stroke-width="1.05" fill="none"/>
<text x="102.61" y="94.3" font-size="16.8" font-family="'Liberation Serif',serif" stroke="#000" stroke-width="0.12" textLength="5.96" lengthAdjust="spacingAndGlyphs">(</text>
<text x="109.23" y="96.9" font-size="21.6" font-family="'Liberation Serif',serif" textLength="11.46" lengthAdjust="spacingAndGlyphs">Σ</text>
<text x="124.44" y="94.5" font-size="17.3" font-family="'Liberation Serif',serif" font-weight="bold" font-style="italic" stroke="#000" stroke-width="0.3" textLength="10.83" lengthAdjust="spacingAndGlyphs">A</text>
<text x="134.99" y="99.5" font-size="12.4" font-family="'Liberation Serif',serif" font-weight="bold" font-style="italic" stroke="#000" stroke-width="0.2" textLength="7.97" lengthAdjust="spacingAndGlyphs">w</text>
<text x="143.62" y="94.3" font-size="16.8" font-family="'Liberation Serif',serif" stroke="#000" stroke-width="0.12" textLength="5.96" lengthAdjust="spacingAndGlyphs">)</text>
<text x="150.52" y="98" font-size="11.2" font-family="'Liberation Serif',serif" font-weight="bold" font-style="italic" stroke="#000" stroke-width="0.15" textLength="3.02" lengthAdjust="spacingAndGlyphs">i</text>
<path d="M159.7 89.75H169.1M164.4 85.05V94.45" stroke="#000" stroke-width="1.05" fill="none"/>
<text x="174.51" y="94.3" font-size="16.8" font-family="'Liberation Serif',serif" stroke="#000" stroke-width="0.12" textLength="5.96" lengthAdjust="spacingAndGlyphs">(</text>
<text x="180.82" y="96.9" font-size="21.6" font-family="'Liberation Serif',serif" textLength="11.58" lengthAdjust="spacingAndGlyphs">Σ</text>
<text x="196.24" y="94.5" font-size="17.3" font-family="'Liberation Serif',serif" font-weight="bold" font-style="italic" stroke="#000" stroke-width="0.3" textLength="10.83" lengthAdjust="spacingAndGlyphs">A</text>
<text x="206.81" y="99.5" font-size="12.4" font-family="'Liberation Serif',serif" font-weight="bold" font-style="italic" stroke="#000" stroke-width="0.2" textLength="5.59" lengthAdjust="spacingAndGlyphs">g</text>
<text x="213.22" y="94.3" font-size="16.8" font-family="'Liberation Serif',serif" stroke="#000" stroke-width="0.12" textLength="5.96" lengthAdjust="spacingAndGlyphs">)</text>
<text x="220.71" y="98" font-size="11.2" font-family="'Liberation Serif',serif" font-weight="bold" font-style="italic" stroke="#000" stroke-width="0.15" textLength="3.14" lengthAdjust="spacingAndGlyphs">i</text>
<path d="M230 89.75H239.6M234.8 84.95V94.55" stroke="#000" stroke-width="1.05" fill="none"/>
<text x="245.01" y="94.3" font-size="16.8" font-family="'Liberation Serif',serif" stroke="#000" stroke-width="0.12" textLength="5.96" lengthAdjust="spacingAndGlyphs">(</text>
<text x="250.96" y="94.5" font-size="17.3" font-family="'Liberation Serif',serif" font-weight="bold" textLength="11.09" lengthAdjust="spacingAndGlyphs">0</text>
<text x="261.48" y="94.5" font-size="17.3" font-family="'Liberation Serif',serif" font-weight="bold" textLength="2.93" lengthAdjust="spacingAndGlyphs">.</text>
<text x="267.41" y="94.5" font-size="17.3" font-family="'Liberation Serif',serif" font-weight="bold" textLength="8.69" lengthAdjust="spacingAndGlyphs">1</text>
<text x="276.62" y="94.5" font-size="17.3" font-family="'Liberation Serif',serif" font-weight="bold" textLength="8.5" lengthAdjust="spacingAndGlyphs">5</text>
<text x="288.42" y="96.9" font-size="21.6" font-family="'Liberation Serif',serif" textLength="11.7" lengthAdjust="spacingAndGlyphs">Σ</text>
<text x="304.04" y="94.5" font-size="17.3" font-family="'Liberation Serif',serif" font-weight="bold" font-style="italic" stroke="#000" stroke-width="0.3" textLength="10.83" lengthAdjust="spacingAndGlyphs">A</text>
<text x="314.55" y="99.5" font-size="12.4" font-family="'Liberation Serif',serif" font-weight="bold" font-style="italic" stroke="#000" stroke-width="0.2" textLength="5.43" lengthAdjust="spacingAndGlyphs">k</text>
<text x="320.52" y="94.3" font-size="16.8" font-family="'Liberation Serif',serif" stroke="#000" stroke-width="0.12" textLength="5.96" lengthAdjust="spacingAndGlyphs">)</text>
<text x="328.43" y="98" font-size="11.2" font-family="'Liberation Serif',serif" font-weight="bold" font-style="italic" stroke="#000" stroke-width="0.15" textLength="2.91" lengthAdjust="spacingAndGlyphs">i</text>
<text x="31.6" y="136.3" font-size="15.6" font-weight="bold" font-style="italic" textLength="10.9" lengthAdjust="spacingAndGlyphs">η</text>
<text x="42.8" y="136.5" font-size="11" font-weight="bold" font-style="italic" textLength="9.5" lengthAdjust="spacingAndGlyphs">ci</text>
<text x="58.2" y="136.3" font-size="15.6" font-weight="bold" font-style="italic" textLength="60.3" lengthAdjust="spacingAndGlyphs">&lt;0.60:</text>
<text x="123.6" y="136.3" font-size="15.6" textLength="26.16" lengthAdjust="spacingAndGlyphs">It’s</text>
<text x="155.5" y="136.3" font-size="15.6" textLength="46.36" lengthAdjust="spacingAndGlyphs">never</text>
<text x="207.59" y="136.3" font-size="15.6" textLength="67.76" lengthAdjust="spacingAndGlyphs">allowed.</text>
<text x="281.09" y="136.3" font-size="15.6" textLength="61.29" lengthAdjust="spacingAndGlyphs">System</text>
<text x="31" y="164.2" font-size="15.6" textLength="56.43" lengthAdjust="spacingAndGlyphs">rigidity</text>
<text x="93.13" y="164.2" font-size="15.6" textLength="53.35" lengthAdjust="spacingAndGlyphs">should</text>
<text x="152.19" y="164.2" font-size="15.6" textLength="19.76" lengthAdjust="spacingAndGlyphs">be</text>
<text x="177.65" y="164.2" font-size="15.6" textLength="83.58" lengthAdjust="spacingAndGlyphs">increased.</text>
<text x="31" y="192.2" font-size="15.6" font-weight="bold" font-style="italic" textLength="53.4" lengthAdjust="spacingAndGlyphs">0.60≤</text>
<text x="91.6" y="192.2" font-size="15.6" font-weight="bold" font-style="italic" textLength="12.3" lengthAdjust="spacingAndGlyphs">η</text>
<text x="104.2" y="192.4" font-size="11" font-weight="bold" font-style="italic" textLength="8.3" lengthAdjust="spacingAndGlyphs">ci</text>
<text x="118" y="192.2" font-size="15.6" font-weight="bold" font-style="italic" textLength="60.2" lengthAdjust="spacingAndGlyphs">&lt;0.80:</text>
<text x="184" y="192.2" font-size="15.6" textLength="11.27" lengthAdjust="spacingAndGlyphs">R</text>
<text x="194.8" y="192.5" font-size="11" textLength="6.4" lengthAdjust="spacingAndGlyphs">x</text>
<text x="206.5" y="192.2" font-size="15.6" textLength="30.1" lengthAdjust="spacingAndGlyphs">and</text>
<text x="242.31" y="192.2" font-size="15.6" textLength="11.27" lengthAdjust="spacingAndGlyphs">R</text>
<text x="253.5" y="192.5" font-size="11" textLength="6.1" lengthAdjust="spacingAndGlyphs">y</text>
<text x="265.8" y="192.2" font-size="15.6" textLength="53.35" lengthAdjust="spacingAndGlyphs">should</text>
<text x="324.85" y="192.2" font-size="15.6" textLength="19.76" lengthAdjust="spacingAndGlyphs">be</text>
<text x="31" y="220.3" font-size="15.6" textLength="77.68" lengthAdjust="spacingAndGlyphs">increased</text>
<text x="114.38" y="220.3" font-size="15.6" textLength="34.35" lengthAdjust="spacingAndGlyphs">with</text>
<text x="154.44" y="220.3" font-size="15.6" textLength="44.19" lengthAdjust="spacingAndGlyphs">1.25(</text>
<text x="198.8" y="220.3" font-size="15.6" font-weight="bold" font-style="italic" textLength="12.4" lengthAdjust="spacingAndGlyphs">η</text>
<text x="211.4" y="220.5" font-size="11" font-weight="bold" font-style="italic" textLength="9" lengthAdjust="spacingAndGlyphs">ci</text>
<text x="220.4" y="220.3" font-size="15.6" textLength="7.36" lengthAdjust="spacingAndGlyphs">)</text>
<text x="227" y="220.6" font-size="11" textLength="18.6" lengthAdjust="spacingAndGlyphs">min</text>
<text x="31.6" y="248" font-size="15.6" font-weight="bold" font-style="italic" textLength="11.3" lengthAdjust="spacingAndGlyphs">η</text>
<text x="43.2" y="248.2" font-size="11" font-weight="bold" font-style="italic" textLength="10" lengthAdjust="spacingAndGlyphs">ci</text>
<text x="59" y="248" font-size="15.6" font-weight="bold" font-style="italic" textLength="52.7" lengthAdjust="spacingAndGlyphs">&gt;0.80</text>
<text x="119" y="248" font-size="15.6" textLength="46.17" lengthAdjust="spacingAndGlyphs">There</text>
<text x="170.84" y="248" font-size="15.6" textLength="12.8" lengthAdjust="spacingAndGlyphs">is</text>
<text x="189.31" y="248" font-size="15.6" textLength="19.96" lengthAdjust="spacingAndGlyphs">no</text>
<text x="214.94" y="248" font-size="15.6" textLength="21.28" lengthAdjust="spacingAndGlyphs">B1</text>
<text x="241.89" y="248" font-size="15.6" textLength="95.09" lengthAdjust="spacingAndGlyphs">irregularity.</text>
<text x="31.76" y="275.3" font-size="15.4" font-family="'Liberation Serif',serif" font-weight="bold" font-style="italic" stroke="#000" stroke-width="0.3" textLength="9.06" lengthAdjust="spacingAndGlyphs">η</text>
<text x="41.11" y="278.2" font-size="11" font-family="'Liberation Serif',serif" font-weight="bold" font-style="italic" textLength="9.35" lengthAdjust="spacingAndGlyphs">ci</text>
<path d="M55.9 275.7h3.5l0.6 -2.4h-3.5z" fill="#000"/>
<path d="M57.1 269.7h3.5l0.6 -2.4h-3.5z" fill="#000"/>
<text x="66.8" y="275.8" font-size="15.6" textLength="71.06" lengthAdjust="spacingAndGlyphs">Strength</text>
<text x="143.57" y="275.8" font-size="15.6" textLength="92.22" lengthAdjust="spacingAndGlyphs">Irregularity</text>
<text x="241.5" y="275.8" font-size="15.6" textLength="50.66" lengthAdjust="spacingAndGlyphs">Factor</text>
<text x="31" y="294.5" font-size="15.6" textLength="59.93" lengthAdjust="spacingAndGlyphs">defined</text>
<text x="96.63" y="294.5" font-size="15.6" textLength="16.13" lengthAdjust="spacingAndGlyphs">at</text>
<text x="118.47" y="294.5" font-size="15.6" textLength="25.45" lengthAdjust="spacingAndGlyphs">i’th</text>
<text x="149.62" y="294.5" font-size="15.6" textLength="41.19" lengthAdjust="spacingAndGlyphs">story</text>
<text x="196.52" y="294.5" font-size="15.6" textLength="15.55" lengthAdjust="spacingAndGlyphs">of</text>
<text x="217.77" y="294.5" font-size="15.6" textLength="64.14" lengthAdjust="spacingAndGlyphs">building</text>
<text x="31.85" y="331.4" font-size="16.4" font-family="'Liberation Serif',serif" stroke="#000" stroke-width="0.12" textLength="5.7" lengthAdjust="spacingAndGlyphs">(</text>
<text x="36.65" y="334" font-size="21" font-family="'Liberation Serif',serif" textLength="12.64" lengthAdjust="spacingAndGlyphs">Σ</text>
<text x="53.34" y="331.3" font-size="15.4" font-family="'Liberation Serif',serif" font-weight="bold" font-style="italic" stroke="#000" stroke-width="0.3" textLength="9.55" lengthAdjust="spacingAndGlyphs">A</text>
<text x="63.19" y="336.3" font-size="12.2" font-family="'Liberation Serif',serif" font-weight="bold" font-style="italic" stroke="#000" stroke-width="0.2" textLength="8.67" lengthAdjust="spacingAndGlyphs">w</text>
<text x="72.05" y="331.4" font-size="16.4" font-family="'Liberation Serif',serif" stroke="#000" stroke-width="0.12" textLength="5.7" lengthAdjust="spacingAndGlyphs">)</text>
<text x="78.68" y="334.8" font-size="11" font-family="'Liberation Serif',serif" font-weight="bold" font-style="italic" stroke="#000" stroke-width="0.15" textLength="3.47" lengthAdjust="spacingAndGlyphs">i</text>
<path d="M89.8 331.7h3.5l0.6 -2.4h-3.5z" fill="#000"/>
<path d="M91 325.7h3.5l0.6 -2.4h-3.5z" fill="#000"/>
<text x="101.2" y="331.8" font-size="15.6" textLength="37.12" lengthAdjust="spacingAndGlyphs">Sum</text>
<text x="144.03" y="331.8" font-size="15.6" textLength="15.55" lengthAdjust="spacingAndGlyphs">of</text>
<text x="165.28" y="331.8" font-size="15.6" textLength="69.27" lengthAdjust="spacingAndGlyphs">effective</text>
<text x="240.25" y="331.8" font-size="15.6" textLength="33.02" lengthAdjust="spacingAndGlyphs">web</text>
<text x="278.98" y="331.8" font-size="15.6" textLength="44.51" lengthAdjust="spacingAndGlyphs">areas</text>
<text x="329.19" y="331.8" font-size="15.6" textLength="15.55" lengthAdjust="spacingAndGlyphs">of</text>
<text x="31.2" y="352.5" font-size="15.6" textLength="59.02" lengthAdjust="spacingAndGlyphs">column</text>
<text x="95.93" y="352.5" font-size="15.6" textLength="42.1" lengthAdjust="spacingAndGlyphs">cross</text>
<text x="143.73" y="352.5" font-size="15.6" textLength="65.93" lengthAdjust="spacingAndGlyphs">sections</text>
<text x="215.36" y="352.5" font-size="15.6" textLength="16.13" lengthAdjust="spacingAndGlyphs">at</text>
<text x="237.2" y="352.5" font-size="15.6" textLength="25.45" lengthAdjust="spacingAndGlyphs">i’th</text>
<text x="268.35" y="352.5" font-size="15.6" textLength="41.19" lengthAdjust="spacingAndGlyphs">story</text>
<text x="315.25" y="352.5" font-size="15.6" textLength="15.55" lengthAdjust="spacingAndGlyphs">of</text>
<text x="336.5" y="352.5" font-size="15.6" textLength="64.14" lengthAdjust="spacingAndGlyphs">building</text>
<text x="31.85" y="389.4" font-size="16.4" font-family="'Liberation Serif',serif" stroke="#000" stroke-width="0.12" textLength="5.7" lengthAdjust="spacingAndGlyphs">(</text>
<text x="36.65" y="392" font-size="21" font-family="'Liberation Serif',serif" textLength="12.64" lengthAdjust="spacingAndGlyphs">Σ</text>
<text x="53.34" y="389.3" font-size="15.4" font-family="'Liberation Serif',serif" font-weight="bold" font-style="italic" stroke="#000" stroke-width="0.3" textLength="9.55" lengthAdjust="spacingAndGlyphs">A</text>
<text x="63.45" y="394.3" font-size="12.2" font-family="'Liberation Serif',serif" font-weight="bold" font-style="italic" stroke="#000" stroke-width="0.2" textLength="6.6" lengthAdjust="spacingAndGlyphs">g</text>
<text x="70.05" y="389.4" font-size="16.4" font-family="'Liberation Serif',serif" stroke="#000" stroke-width="0.12" textLength="5.7" lengthAdjust="spacingAndGlyphs">)</text>
<text x="76.68" y="392.8" font-size="11" font-family="'Liberation Serif',serif" font-weight="bold" font-style="italic" stroke="#000" stroke-width="0.15" textLength="3.47" lengthAdjust="spacingAndGlyphs">i</text>
<path d="M86.5 389.7h3.5l0.6 -2.4h-3.5z" fill="#000"/>
<path d="M87.7 383.7h3.5l0.6 -2.4h-3.5z" fill="#000"/>
<text x="97.9" y="389.8" font-size="15.6" textLength="37.12" lengthAdjust="spacingAndGlyphs">Sum</text>
<text x="140.73" y="389.8" font-size="15.6" textLength="15.55" lengthAdjust="spacingAndGlyphs">of</text>
<text x="161.98" y="389.8" font-size="15.6" textLength="57.48" lengthAdjust="spacingAndGlyphs">section</text>
<text x="225.16" y="389.8" font-size="15.6" textLength="44.51" lengthAdjust="spacingAndGlyphs">areas</text>
<text x="275.38" y="389.8" font-size="15.6" textLength="15.55" lengthAdjust="spacingAndGlyphs">of</text>
<text x="296.63" y="389.8" font-size="15.6" textLength="85.36" lengthAdjust="spacingAndGlyphs">shearwalls</text>
<text x="387.7" y="389.8" font-size="15.6" textLength="14.7" lengthAdjust="spacingAndGlyphs">in</text>
<text x="408.11" y="389.8" font-size="15.6" textLength="26.31" lengthAdjust="spacingAndGlyphs">the</text>
<text x="31" y="411.8" font-size="15.6" textLength="70.5" lengthAdjust="spacingAndGlyphs">direction</text>
<text x="107.2" y="411.8" font-size="15.6" textLength="59.49" lengthAdjust="spacingAndGlyphs">parallel</text>
<text x="172.4" y="411.8" font-size="15.6" textLength="16.23" lengthAdjust="spacingAndGlyphs">to</text>
<text x="194.33" y="411.8" font-size="15.6" textLength="26.31" lengthAdjust="spacingAndGlyphs">the</text>
<text x="226.35" y="411.8" font-size="15.6" textLength="92.33" lengthAdjust="spacingAndGlyphs">earthquake</text>
<text x="324.38" y="411.8" font-size="15.6" textLength="70.5" lengthAdjust="spacingAndGlyphs">direction</text>
<text x="400.59" y="411.8" font-size="15.6" textLength="87.87" lengthAdjust="spacingAndGlyphs">considered</text>
<text x="31" y="430.9" font-size="15.6" textLength="16.13" lengthAdjust="spacingAndGlyphs">at</text>
<text x="52.83" y="430.9" font-size="15.6" textLength="25.45" lengthAdjust="spacingAndGlyphs">i’th</text>
<text x="83.99" y="430.9" font-size="15.6" textLength="41.19" lengthAdjust="spacingAndGlyphs">story</text>
<text x="130.89" y="430.9" font-size="15.6" textLength="15.55" lengthAdjust="spacingAndGlyphs">of</text>
<text x="152.14" y="430.9" font-size="15.6" textLength="64.14" lengthAdjust="spacingAndGlyphs">building</text>
<text x="31.85" y="468.2" font-size="16.4" font-family="'Liberation Serif',serif" stroke="#000" stroke-width="0.12" textLength="5.7" lengthAdjust="spacingAndGlyphs">(</text>
<text x="36.65" y="470.8" font-size="21" font-family="'Liberation Serif',serif" textLength="12.64" lengthAdjust="spacingAndGlyphs">Σ</text>
<text x="53.34" y="468.1" font-size="15.4" font-family="'Liberation Serif',serif" font-weight="bold" font-style="italic" stroke="#000" stroke-width="0.3" textLength="9.55" lengthAdjust="spacingAndGlyphs">A</text>
<text x="63.03" y="473.1" font-size="12.2" font-family="'Liberation Serif',serif" font-weight="bold" font-style="italic" stroke="#000" stroke-width="0.2" textLength="6.27" lengthAdjust="spacingAndGlyphs">k</text>
<text x="69.65" y="468.2" font-size="16.4" font-family="'Liberation Serif',serif" stroke="#000" stroke-width="0.12" textLength="5.7" lengthAdjust="spacingAndGlyphs">)</text>
<text x="76.38" y="471.6" font-size="11" font-family="'Liberation Serif',serif" font-weight="bold" font-style="italic" stroke="#000" stroke-width="0.15" textLength="3.47" lengthAdjust="spacingAndGlyphs">i</text>
<path d="M87.6 468.5h3.5l0.6 -2.4h-3.5z" fill="#000"/>
<path d="M88.8 462.5h3.5l0.6 -2.4h-3.5z" fill="#000"/>
<text x="99.4" y="468.6" font-size="15.6" textLength="37.12" lengthAdjust="spacingAndGlyphs">Sum</text>
<text x="142.23" y="468.6" font-size="15.6" textLength="15.55" lengthAdjust="spacingAndGlyphs">of</text>
<text x="163.48" y="468.6" font-size="15.6" textLength="70.58" lengthAdjust="spacingAndGlyphs">masonry</text>
<text x="239.76" y="468.6" font-size="15.6" textLength="33.73" lengthAdjust="spacingAndGlyphs">infill</text>
<text x="279.2" y="468.6" font-size="15.6" textLength="31.89" lengthAdjust="spacingAndGlyphs">wall</text>
<text x="316.79" y="468.6" font-size="15.6" textLength="44.51" lengthAdjust="spacingAndGlyphs">areas</text>
<text x="367.01" y="468.6" font-size="15.6" textLength="16.13" lengthAdjust="spacingAndGlyphs">at</text>
<text x="388.85" y="468.6" font-size="15.6" textLength="25.45" lengthAdjust="spacingAndGlyphs">i’th</text>
<text x="420" y="468.6" font-size="15.6" textLength="41.19" lengthAdjust="spacingAndGlyphs">story</text>
<text x="31" y="489" font-size="15.6" textLength="14.7" lengthAdjust="spacingAndGlyphs">in</text>
<text x="51.41" y="489" font-size="15.6" textLength="26.31" lengthAdjust="spacingAndGlyphs">the</text>
<text x="83.42" y="489" font-size="15.6" textLength="70.5" lengthAdjust="spacingAndGlyphs">direction</text>
<text x="159.63" y="489" font-size="15.6" textLength="59.49" lengthAdjust="spacingAndGlyphs">parallel</text>
<text x="224.82" y="489" font-size="15.6" textLength="16.23" lengthAdjust="spacingAndGlyphs">to</text>
<text x="246.76" y="489" font-size="15.6" textLength="26.31" lengthAdjust="spacingAndGlyphs">the</text>
<text x="278.77" y="489" font-size="15.6" textLength="92.33" lengthAdjust="spacingAndGlyphs">earthquake</text>
<text x="376.81" y="489" font-size="15.6" textLength="70.5" lengthAdjust="spacingAndGlyphs">direction</text>
<text x="31.2" y="507.1" font-size="15.6" textLength="87.87" lengthAdjust="spacingAndGlyphs">considered</text>
<text x="31.85" y="544.3" font-size="16.4" font-family="'Liberation Serif',serif" stroke="#000" stroke-width="0.12" textLength="5.7" lengthAdjust="spacingAndGlyphs">(</text>
<text x="36.65" y="546.9" font-size="21" font-family="'Liberation Serif',serif" textLength="12.64" lengthAdjust="spacingAndGlyphs">Σ</text>
<text x="53.34" y="544.2" font-size="15.4" font-family="'Liberation Serif',serif" font-weight="bold" font-style="italic" stroke="#000" stroke-width="0.3" textLength="9.55" lengthAdjust="spacingAndGlyphs">A</text>
<text x="62.86" y="549.2" font-size="12.2" font-family="'Liberation Serif',serif" font-weight="bold" font-style="italic" stroke="#000" stroke-width="0.2" textLength="6.35" lengthAdjust="spacingAndGlyphs">e</text>
<text x="69.35" y="544.3" font-size="16.4" font-family="'Liberation Serif',serif" stroke="#000" stroke-width="0.12" textLength="5.7" lengthAdjust="spacingAndGlyphs">)</text>
<text x="76.08" y="547.7" font-size="11" font-family="'Liberation Serif',serif" font-weight="bold" font-style="italic" stroke="#000" stroke-width="0.15" textLength="3.47" lengthAdjust="spacingAndGlyphs">i</text>
<path d="M87.3 544.6h3.5l0.6 -2.4h-3.5z" fill="#000"/>
<path d="M88.5 538.6h3.5l0.6 -2.4h-3.5z" fill="#000"/>
<text x="98.4" y="544.7" font-size="15.6" textLength="69.85" lengthAdjust="spacingAndGlyphs">Effective</text>
<text x="173.95" y="544.7" font-size="15.6" textLength="45.03" lengthAdjust="spacingAndGlyphs">shear</text>
<text x="224.69" y="544.7" font-size="15.6" textLength="36.07" lengthAdjust="spacingAndGlyphs">area</text>
<text x="266.47" y="544.7" font-size="15.6" textLength="16.13" lengthAdjust="spacingAndGlyphs">at</text>
<text x="288.3" y="544.7" font-size="15.6" textLength="25.45" lengthAdjust="spacingAndGlyphs">i’th</text>
<text x="319.46" y="544.7" font-size="15.6" textLength="41.19" lengthAdjust="spacingAndGlyphs">story</text>
<text x="366.35" y="544.7" font-size="15.6" textLength="22.47" lengthAdjust="spacingAndGlyphs">for</text>
<text x="31" y="565.3" font-size="15.6" textLength="26.31" lengthAdjust="spacingAndGlyphs">the</text>
<text x="63.01" y="565.3" font-size="15.6" textLength="92.33" lengthAdjust="spacingAndGlyphs">earthquake</text>
<text x="161.05" y="565.3" font-size="15.6" textLength="70.5" lengthAdjust="spacingAndGlyphs">direction</text>
<text x="237.26" y="565.3" font-size="15.6" textLength="87.87" lengthAdjust="spacingAndGlyphs">considered</text>
</g>
</svg></body></html>
